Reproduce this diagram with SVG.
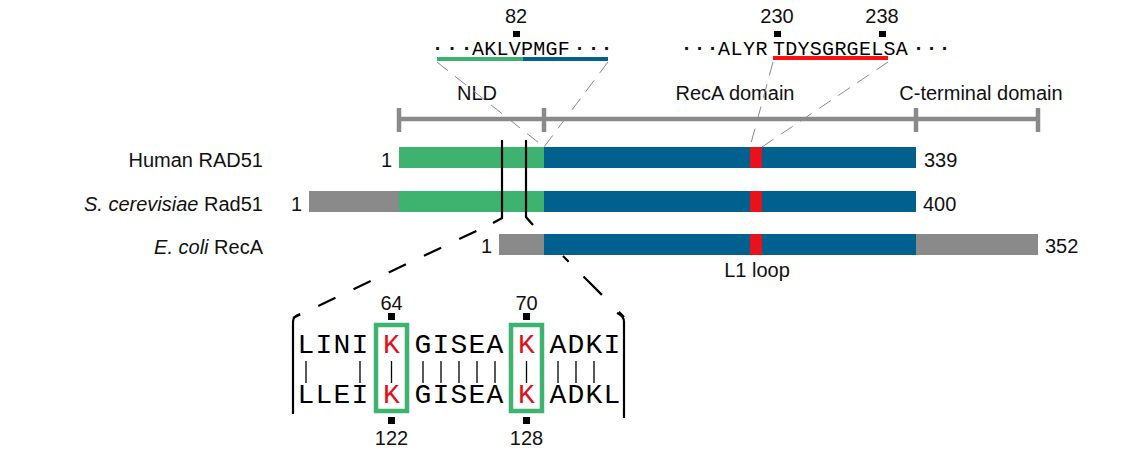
<svg xmlns="http://www.w3.org/2000/svg" width="1126" height="468" viewBox="0 0 1126 468">
<style>
.lbl{font-family:"Liberation Sans",Arial,sans-serif;font-size:20px;fill:#111}
.num{font-family:"Liberation Sans",Arial,sans-serif;font-size:20px;fill:#111}
.it{font-style:italic}
.mono{font-family:"Liberation Mono","Courier New",monospace;font-size:20px;fill:#000;text-anchor:middle}
.dot{font-family:"Liberation Sans",Arial,sans-serif;font-size:20px;font-weight:bold;fill:#111;text-anchor:middle}
.big{font-family:"Liberation Mono","Courier New",monospace;font-size:28px;fill:#000;text-anchor:middle}
.red{fill:#e3101a}
.gdash{stroke:#8a8a8a;stroke-width:1;fill:none;stroke-dasharray:14 9}
.blk{stroke:#000;stroke-width:2.2;fill:none}
.kbox{fill:none;stroke:#3db36f;stroke-width:4.5}
.green{fill:#3db36f}
.blue{fill:#00618f}
.grey{fill:#8a8a8a}
.l1{fill:#e8121c}
.mk{fill:#000}
</style>
<rect width="1126" height="468" fill="#fff"/>

<g id="domain-scale">
  <path d="M399,119 H1038 M399,108 V132 M544,108 V132 M916,108 V132 M1038,108 V132" stroke="#8a8a8a" stroke-width="4.5" fill="none"/>
  <text class="lbl" x="477" y="100" text-anchor="middle">NLD</text>
  <text class="lbl" x="735" y="100" text-anchor="middle">RecA domain</text>
  <text class="lbl" x="981" y="100" text-anchor="middle">C-terminal domain</text>
</g>

<g id="seq-nld">
  <text class="num" x="516" y="23" text-anchor="middle">82</text>
  <rect class="mk" x="513" y="31" width="7" height="6"/>
  <text class="dot" x="438 452.5 467" y="55">···</text>
  <text class="mono" x="478 490.25 502.5 514.75 527 539.25 551.5 563.75" y="55">AKLVPMGF</text>
  <text class="dot" x="580 594 607" y="55">···</text>
  <line x1="437" y1="59" x2="523" y2="59" stroke="#3db36f" stroke-width="4"/>
  <line x1="523" y1="59" x2="608" y2="59" stroke="#00618f" stroke-width="4"/>
</g>

<g id="seq-l1">
  <text class="num" x="777" y="23" text-anchor="middle">230</text>
  <text class="num" x="882" y="23" text-anchor="middle">238</text>
  <rect class="mk" x="774" y="31" width="7" height="6"/>
  <rect class="mk" x="879" y="31" width="7" height="6"/>
  <text class="dot" x="687 700 713" y="55">···</text>
  <text class="mono" x="724 736.5 749 761.5 779 791.3 803.5 815.8 828.1 840.4 852.6 864.9 877.2 889.4 901.7" y="55">ALYRTDYSGRGELSA</text>
  <text class="dot" x="919 932 945" y="55">···</text>
  <line x1="773" y1="58" x2="888" y2="58" stroke="#ff1010" stroke-width="4"/>
</g>

<g id="human-rad51">
  <text class="lbl" x="263" y="167" text-anchor="end">Human RAD51</text>
  <text class="lbl" x="392" y="167" text-anchor="end">1</text>
  <rect class="green" x="399" y="147" width="145" height="21"/>
  <rect class="blue" x="544" y="147" width="372" height="21"/>
  <rect class="l1" x="750" y="147" width="12" height="21"/>
  <text class="lbl" x="924" y="167">339</text>
</g>

<g id="sc-rad51">
  <text class="lbl" x="263" y="211" text-anchor="end"><tspan class="it">S. cerevisiae</tspan> Rad51</text>
  <text class="lbl" x="302" y="211" text-anchor="end">1</text>
  <rect class="grey" x="309" y="191" width="90" height="21"/>
  <rect class="green" x="399" y="191" width="145" height="21"/>
  <rect class="blue" x="544" y="191" width="372" height="21"/>
  <rect class="l1" x="750" y="191" width="12" height="21"/>
  <text class="lbl" x="923" y="211">400</text>
</g>

<g id="ecoli-reca">
  <text class="lbl" x="263" y="254" text-anchor="end"><tspan class="it">E. coli</tspan> RecA</text>
  <text class="lbl" x="492" y="253" text-anchor="end">1</text>
  <rect class="grey" x="499" y="234" width="45" height="21"/>
  <rect class="blue" x="544" y="234" width="372" height="21"/>
  <rect class="l1" x="750" y="234" width="12" height="21"/>
  <rect class="grey" x="916" y="234" width="122" height="21"/>
  <text class="lbl" x="1045" y="253">352</text>
  <text class="lbl" x="757" y="277" text-anchor="middle">L1 loop</text>
</g>

<g id="alignment">
  <path d="M300,314 Q293,316 293,322 V414" class="blk" stroke-width="3"/>
  <path d="M617,313 Q624,316 624,322 V418" class="blk" stroke-width="3"/>
  <text class="num" x="391.5" y="310" text-anchor="middle">64</text>
  <text class="num" x="526.5" y="310" text-anchor="middle">70</text>
  <text class="num" x="391.5" y="445" text-anchor="middle">122</text>
  <text class="num" x="526.5" y="445" text-anchor="middle">128</text>
  <rect class="mk" x="388" y="313" width="7" height="7"/>
  <rect class="mk" x="523" y="313" width="7" height="7"/>
  <rect class="mk" x="388" y="417" width="7" height="7"/>
  <rect class="mk" x="523" y="417" width="7" height="7"/>
  <rect class="kbox" x="376" y="325" width="31" height="86"/>
  <rect class="kbox" x="511" y="325" width="31" height="86"/>
  <text class="big" y="353"><tspan x="306 324 342 360">LINI</tspan><tspan class="red" x="391.5">K</tspan><tspan x="423 441 459 477 495">GISEA</tspan><tspan class="red" x="526.5">K</tspan><tspan x="558 576 594 612">ADKI</tspan></text>
  <text class="big" y="403"><tspan x="306 324 342 360">LLEI</tspan><tspan class="red" x="391.5">K</tspan><tspan x="423 441 459 477 495">GISEA</tspan><tspan class="red" x="526.5">K</tspan><tspan x="558 576 594 612">ADKL</tspan></text>
  <path d="M306,361 V383 M360,361 V383 M391.5,361 V383 M423,361 V383 M441,361 V383 M459,361 V383 M477,361 V383 M495,361 V383 M526.5,361 V383 M558,361 V383 M576,361 V383 M594,361 V383" stroke="#000" stroke-width="1.3"/>
</g>

<g id="connectors">
  <line class="gdash" x1="437" y1="62" x2="544" y2="147"/>
  <line class="gdash" x1="608" y1="62" x2="544" y2="147"/>
  <line class="gdash" x1="773" y1="62" x2="750" y2="147"/>
  <line class="gdash" x1="888" y1="62" x2="762" y2="147"/>
  <path class="blk" d="M502,140 V218 L493,223"/>
  <path class="blk" d="M526,140 V217 L533,225"/>
  <path class="blk" d="M293,318 L493,223" stroke-dasharray="19 20" stroke-dashoffset="11"/>
  <path class="blk" d="M563,256 L624,317" stroke-dasharray="8 21 26 24 14"/>
</g>
</svg>
